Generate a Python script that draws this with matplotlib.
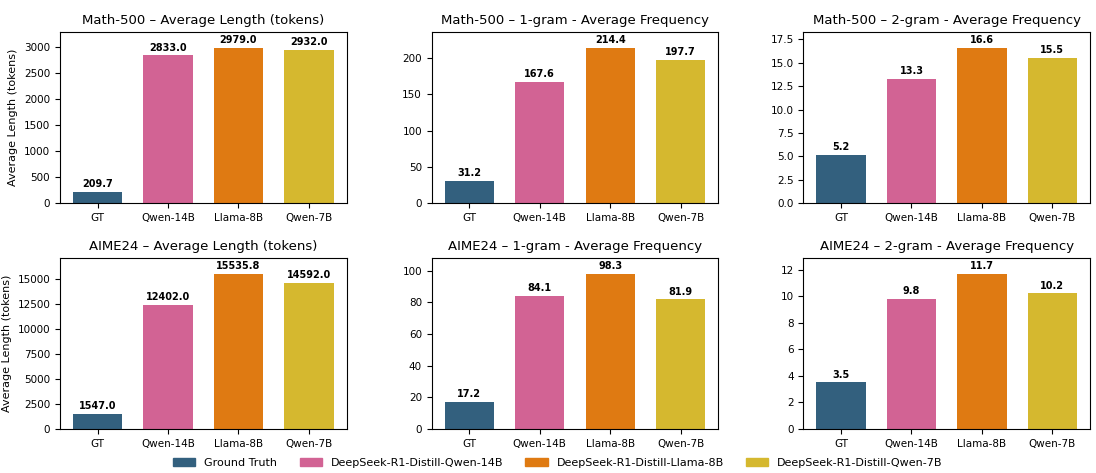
import matplotlib
matplotlib.use("Agg")
import matplotlib.pyplot as plt
from matplotlib.patches import Patch
from matplotlib.ticker import MaxNLocator

models = ["GT", "Qwen-14B", "Llama-8B", "Qwen-7B"]
legend_names = ["Ground Truth", "DeepSeek-R1-Distill-Qwen-14B",
                "DeepSeek-R1-Distill-Llama-8B", "DeepSeek-R1-Distill-Qwen-7B"]
colors = ["#33607e", "#d26394", "#df7a12", "#d5b82f"]

math_len = [209.7, 2833.0, 2979.0, 2932.0]
math_1g = [31.2, 167.6, 214.4, 197.7]
math_2g = [5.2, 13.3, 16.6, 15.5]
aime_len = [1547.0, 12402.0, 15535.8, 14592.0]
aime_1g = [17.2, 84.1, 98.3, 81.9]
aime_2g = [3.5, 9.8, 11.7, 10.2]

titles = [
    ["Math-500 \u2013 Average Length (tokens)", "Math-500 \u2013 1-gram - Average Frequency",
     "Math-500 \u2013 2-gram - Average Frequency"],
    ["AIME24 \u2013 Average Length (tokens)", "AIME24 \u2013 1-gram - Average Frequency",
     "AIME24 \u2013 2-gram - Average Frequency"],
]
data = [[math_len, math_1g, math_2g], [aime_len, aime_1g, aime_2g]]

fig, axes = plt.subplots(2, 3, figsize=(10.96, 4.73), dpi=100)
fig.subplots_adjust(left=0.0547, right=0.9945, top=0.932, bottom=0.093,
                    wspace=0.297, hspace=0.32)

for r in range(2):
    for c in range(3):
        ax = axes[r][c]
        vals = data[r][c]
        x = list(range(len(models)))
        ax.bar(x, vals, width=0.7, color=colors)
        ax.set_xticks(x)
        ax.set_xticklabels(models, fontsize=7.5)
        ax.tick_params(axis="y", labelsize=7.5)
        ax.yaxis.set_major_locator(MaxNLocator(nbins=8, steps=[1, 2, 2.5, 5, 10]))
        ax.set_ylim(0, max(vals) * 1.1)
        ax.set_title(titles[r][c], fontsize=9.5)
        for xi, v in zip(x, vals):
            ax.annotate(f"{v:.1f}", (xi, v), xytext=(0, 2), textcoords="offset points",
                        ha="center", va="bottom", fontsize=7, fontweight="bold")
        if c == 0:
            ax.set_ylabel("Average Length (tokens)", fontsize=8, labelpad=4)

handles = [Patch(color=col, label=n) for col, n in zip(colors, legend_names)]
fig.legend(handles=handles, loc="center", bbox_to_anchor=(0.509, 0.021), ncol=4,
           frameon=False, fontsize=8, columnspacing=2.0)

fig.savefig("out.png", dpi=100)
